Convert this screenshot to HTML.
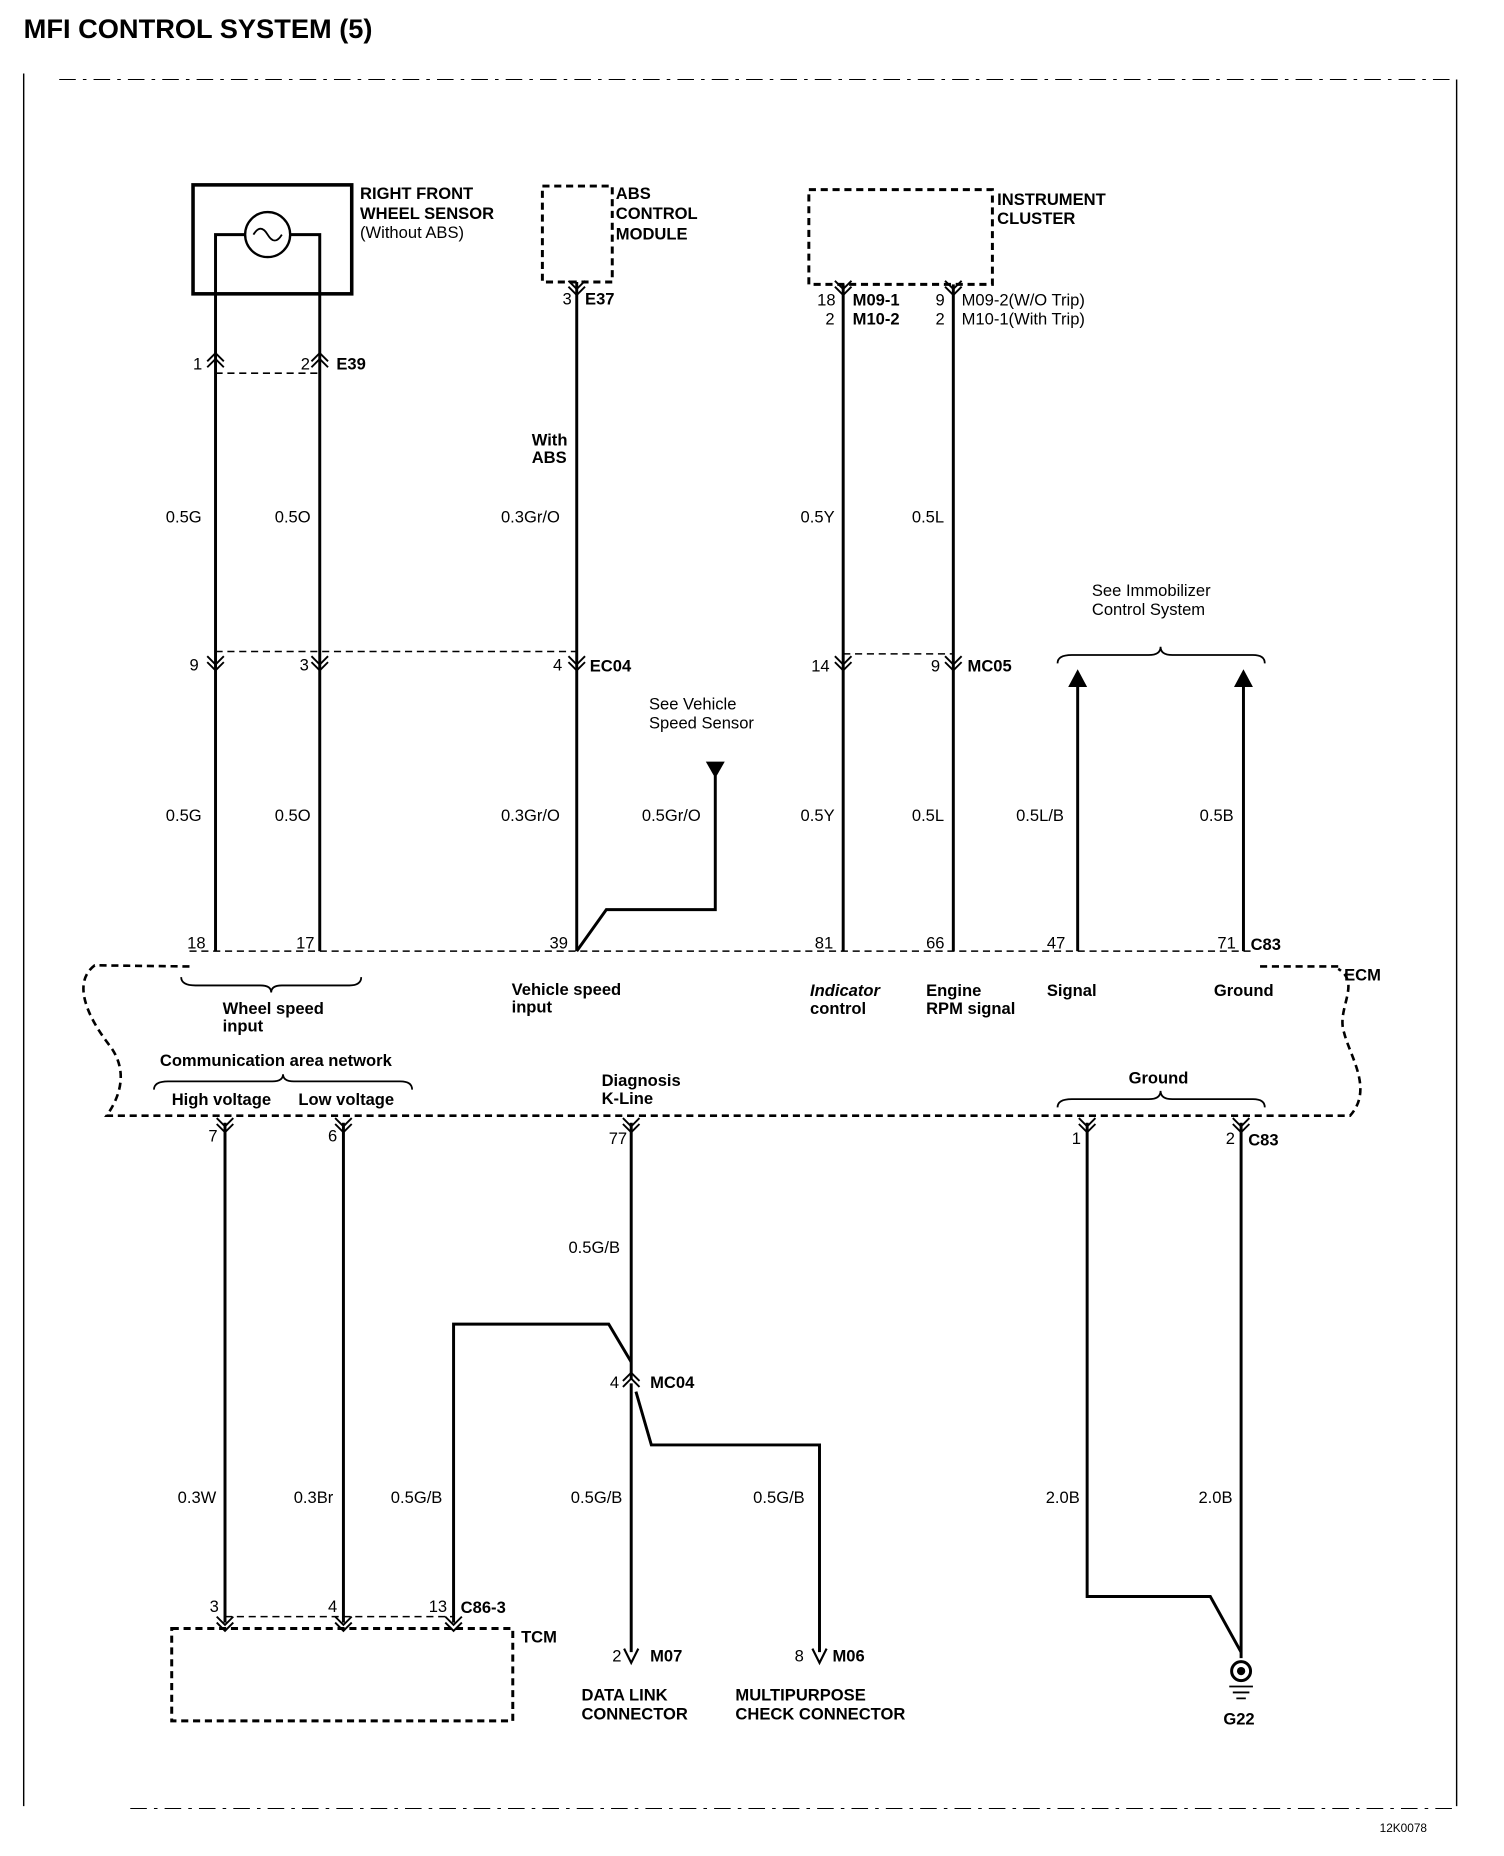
<!DOCTYPE html>
<html><head><meta charset="utf-8"><style>
html,body{margin:0;padding:0;background:#fff}
svg{display:block}
text{font-family:"Liberation Sans",Arial,sans-serif;fill:#000;font-size:14px}
.b{font-weight:bold}
</style></head><body>
<svg width="1504" height="1856" viewBox="0 0 1270 1567" xmlns="http://www.w3.org/2000/svg">
<defs>
<g id="up"><path d="M-7,8 L0,1 L7,8 M-7,13 L0,6 L7,13" fill="none" stroke="#000" stroke-width="1.6"/></g>
<g id="dn"><path d="M-7,-8 L0,-1 L7,-8 M-7,-13 L0,-6 L7,-13" fill="none" stroke="#000" stroke-width="1.6"/></g>
</defs>
<text x="20" y="32" class="b" style="font-size:23px">MFI CONTROL SYSTEM (5)</text>
<g stroke="#000" stroke-width="1.2" fill="none">
<line x1="20" y1="62" x2="20" y2="1525"/>
<line x1="1230" y1="67" x2="1230" y2="1525"/>
<line x1="50" y1="67" x2="1230" y2="67" stroke-dasharray="14 6 3 6" stroke-width="0.8"/>
<line x1="110" y1="1527" x2="1230" y2="1527" stroke-dasharray="14 6 3 6" stroke-width="0.8"/>
</g>
<!-- wheel sensor -->
<rect x="163" y="156" width="134" height="92" fill="none" stroke="#000" stroke-width="3"/>
<circle cx="226" cy="198" r="19" fill="none" stroke="#000" stroke-width="2"/>
<path d="M214,198 q6,-10 12,0 q6,10 12,0" fill="none" stroke="#000" stroke-width="1.5"/>
<g stroke="#000" stroke-width="2.5" fill="none">
<path d="M182,803 L182,198 L207,198 M245,198 L270,198 L270,803"/>
<line x1="487" y1="238" x2="487" y2="803"/>
<line x1="712" y1="240" x2="712" y2="803"/>
<line x1="805" y1="240" x2="805" y2="803"/>
<path d="M487,803 L512,768 L604,768 L604,655"/>
<line x1="910" y1="803" x2="910" y2="578"/>
<line x1="1050" y1="803" x2="1050" y2="578"/>
<line x1="190" y1="948" x2="190" y2="1370"/>
<line x1="290" y1="948" x2="290" y2="1370"/>
<line x1="533" y1="948" x2="533" y2="1165"/>
<path d="M383,1370 L383,1118 L514,1118 L533,1150"/>
<line x1="533" y1="1168" x2="533" y2="1395"/>
<path d="M537,1175 L550,1220 L692,1220 L692,1395"/>
<path d="M918,948 L918,1348 L1022,1348 L1048,1395"/>
<line x1="1048" y1="948" x2="1048" y2="1400"/>
</g>
<polygon points="596,643 612,643 604,657" fill="#000"/>
<polygon points="902,580 918,580 910,565" fill="#000"/>
<polygon points="1042,580 1058,580 1050,565" fill="#000"/>
<path d="M527,1392 L533,1404 L539,1392 M686,1392 L692,1404 L698,1392" fill="none" stroke="#000" stroke-width="1.8"/>
<!-- ground symbol -->
<circle cx="1048" cy="1411" r="8" fill="none" stroke="#000" stroke-width="2.5"/>
<circle cx="1048" cy="1411" r="3.5" fill="#000"/>
<path d="M1038,1424 H1058 M1041,1429 H1055 M1044,1434 H1052" stroke="#000" stroke-width="1.5"/>
<!-- connectors -->
<use href="#up" x="182" y="297"/><use href="#up" x="270" y="297"/>
<use href="#dn" x="182" y="567"/><use href="#dn" x="270" y="567"/><use href="#dn" x="487" y="567"/>
<use href="#dn" x="712" y="567"/><use href="#dn" x="805" y="567"/>
<use href="#dn" x="712" y="250"/><use href="#dn" x="805" y="250"/><use href="#dn" x="487" y="250"/>
<use href="#dn" x="190" y="957"/><use href="#dn" x="290" y="957"/><use href="#dn" x="533" y="957"/>
<use href="#dn" x="918" y="957"/><use href="#dn" x="1048" y="957"/>
<use href="#up" x="533" y="1158"/>
<use href="#dn" x="190" y="1378"/><use href="#dn" x="290" y="1378"/><use href="#dn" x="383" y="1378"/>
<g stroke="#000" stroke-width="1.3" fill="none" stroke-dasharray="6 4">
<line x1="182" y1="315" x2="270" y2="315"/>
<line x1="182" y1="550" x2="487" y2="550"/>
<line x1="712" y1="552" x2="805" y2="552"/>
<line x1="190" y1="1365" x2="383" y2="1365"/>
<rect x="458" y="157" width="59" height="81" stroke-width="2.5"/>
<rect x="683" y="160" width="155" height="80" stroke-width="2.5"/>
<rect x="145" y="1375" width="288" height="78" stroke-width="2.5"/>
<line x1="160" y1="803" x2="1060" y2="803"/>
<path d="M1130,816 L1060,816 M160,816 L80,815 C60,830 75,860 92,882 C110,905 100,928 90,942 L1140,942 C1160,920 1140,892 1135,872 C1128,852 1150,830 1130,818" stroke-width="2.2"/>
</g>
<!-- braces -->
<g stroke="#000" stroke-width="1.5" fill="none">
<path d="M153,825 Q153,832 165,832 L220,832 Q229,832 229,838 Q229,832 238,832 L295,832 Q305,832 305,825"/>
<path d="M130,920 Q130,913 142,913 L230,913 Q239,913 239,907 Q239,913 248,913 L338,913 Q348,913 348,920"/>
<path d="M893,935 Q893,928 905,928 L970,928 Q980,928 980,921 Q980,928 990,928 L1058,928 Q1068,928 1068,935"/>
<path d="M893,560 Q893,553 905,553 L970,553 Q980,553 980,546 Q980,553 990,553 L1058,553 Q1068,553 1068,560"/>
</g>
<!-- labels -->
<g class="b" style="font-size:14px">
<text x="304" y="168">RIGHT FRONT</text><text x="304" y="185">WHEEL SENSOR</text>
<text x="520" y="168">ABS</text><text x="520" y="185">CONTROL</text><text x="520" y="202">MODULE</text>
<text x="842" y="173">INSTRUMENT</text><text x="842" y="189">CLUSTER</text>
<text x="494" y="257">E37</text><text x="284" y="312">E39</text>
<text x="449" y="376">With</text><text x="449" y="391">ABS</text>
<text x="498" y="567">EC04</text><text x="817" y="567">MC05</text>
<text x="1056" y="802">C83</text><text x="1135" y="828">ECM</text>
<text x="432" y="840">Vehicle speed</text><text x="432" y="855">input</text>
<text x="188" y="856">Wheel speed</text><text x="188" y="871">input</text>
<text x="782" y="841">Engine</text><text x="782" y="856">RPM signal</text>
<text x="884" y="841">Signal</text><text x="1025" y="841">Ground</text>
<text x="135" y="900">Communication area network</text>
<text x="145" y="933">High voltage</text><text x="252" y="933">Low voltage</text>
<text x="508" y="917">Diagnosis</text><text x="508" y="932">K-Line</text>
<text x="953" y="915">Ground</text>
<text x="1054" y="967">C83</text>
<text x="549" y="1172">MC04</text>
<text x="389" y="1362">C86-3</text><text x="440" y="1387">TCM</text>
<text x="549" y="1403">M07</text><text x="703" y="1403">M06</text>
<text x="491" y="1436">DATA LINK</text><text x="491" y="1452">CONNECTOR</text>
<text x="621" y="1436">MULTIPURPOSE</text><text x="621" y="1452">CHECK CONNECTOR</text>
<text x="1033" y="1456">G22</text>
<text x="684" y="841" font-style="italic">Indicator</text><text x="684" y="856">control</text>
</g>
<g style="font-size:13px">
<text x="304" y="201">(Without ABS)</text>
<text x="690" y="258">18</text><text x="720" y="258" class="b">M09-1</text>
<text x="697" y="274">2</text><text x="720" y="274" class="b">M10-2</text>
<text x="790" y="258">9</text><text x="812" y="258">M09-2(W/O Trip)</text>
<text x="790" y="274">2</text><text x="812" y="274">M10-1(With Trip)</text>
<text x="475" y="257">3</text>
<text x="163" y="312">1</text><text x="254" y="312">2</text>
<text x="140" y="441">0.5G</text><text x="232" y="441">0.5O</text><text x="423" y="441">0.3Gr/O</text>
<text x="676" y="441">0.5Y</text><text x="770" y="441">0.5L</text>
<text x="160" y="566">9</text><text x="253" y="566">3</text><text x="467" y="566">4</text>
<text x="685" y="567">14</text><text x="786" y="567">9</text>
<text x="548" y="599">See Vehicle</text><text x="548" y="615">Speed Sensor</text>
<text x="922" y="503">See Immobilizer</text><text x="922" y="519">Control System</text>
<text x="140" y="693">0.5G</text><text x="232" y="693">0.5O</text><text x="423" y="693">0.3Gr/O</text>
<text x="542" y="693">0.5Gr/O</text><text x="676" y="693">0.5Y</text><text x="770" y="693">0.5L</text>
<text x="858" y="693">0.5L/B</text><text x="1013" y="693">0.5B</text>
<text x="158" y="801">18</text><text x="250" y="801">17</text><text x="464" y="801">39</text>
<text x="688" y="801">81</text><text x="782" y="801">66</text><text x="884" y="801">47</text><text x="1028" y="801">71</text>
<text x="176" y="964">7</text><text x="277" y="964">6</text><text x="514" y="966">77</text>
<text x="905" y="966">1</text><text x="1035" y="966">2</text>
<text x="480" y="1058">0.5G/B</text><text x="515" y="1172">4</text>
<text x="150" y="1269">0.3W</text><text x="248" y="1269">0.3Br</text><text x="330" y="1269">0.5G/B</text>
<text x="482" y="1269">0.5G/B</text><text x="636" y="1269">0.5G/B</text>
<text x="883" y="1269">2.0B</text><text x="1012" y="1269">2.0B</text>
<text x="177" y="1361">3</text><text x="277" y="1361">4</text><text x="362" y="1361">13</text>
<text x="517" y="1403">2</text><text x="671" y="1403">8</text>
<text x="1165" y="1547" style="font-size:10px">12K0078</text>
</g>
</svg>
</body></html>
